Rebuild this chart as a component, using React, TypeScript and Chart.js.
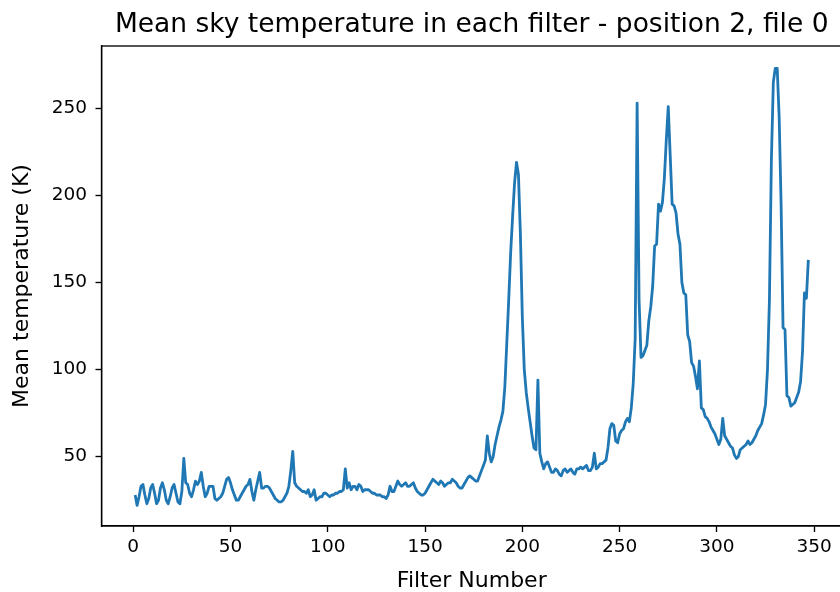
import React, { useEffect, useRef } from "react";
import { Chart, registerables } from "chart.js";

Chart.register(...registerables);

// Filter numbers 1..347 (consecutive filter indices)
const filterNumbers: number[] = Array.from({ length: 347 }, (_, i) => i + 1);

// Mean sky temperature (K), one value per filter
const meanTemperature: number[] = [
  28, 22, 27, 33, 34, 28, 23, 26, 32, 34,
  29, 23, 25, 32, 35, 31, 25, 23, 27, 32,
  34, 29, 24, 23, 30, 49, 35, 34, 29, 27,
  31, 36, 34, 36, 41, 33, 27, 29, 33, 33,
  33, 26, 25, 26, 27, 29, 33, 37, 38, 35,
  31, 28, 25, 25, 27, 29, 31, 33, 34, 37,
  30, 25, 31, 36, 41, 32, 32, 33, 33, 32,
  30, 28, 26, 25, 24, 24, 25, 27, 29, 33,
  42, 53, 35, 33, 32, 31, 30, 30, 29, 31,
  27, 28, 31, 25, 26, 27, 27, 29, 29, 28,
  27, 28, 28, 29, 29, 30, 30, 31, 43, 32,
  35, 31, 33, 33, 31, 34, 33, 30, 31, 31,
  31, 30, 29, 29, 28, 28, 28, 27, 27, 26,
  28, 33, 30, 30, 33, 36, 34, 33, 34, 35,
  33, 33, 34, 35, 32, 30, 29, 28, 28, 29,
  31, 33, 35, 37, 36, 35, 34, 36, 35, 33,
  34, 35, 35, 37, 36, 35, 33, 32, 32, 34,
  36, 38, 39, 38, 37, 36, 36, 39, 42, 45,
  48, 62, 52, 47, 50, 57, 62, 67, 71, 76,
  90, 115, 140, 167, 188, 207, 219, 212, 178, 130,
  100, 87, 78, 70, 62, 55, 54, 94, 52, 47,
  43, 46, 47, 44, 41, 41, 43, 42, 40, 39,
  42, 43, 41, 42, 43, 41, 40, 43, 43, 44,
  43, 44, 45, 42, 42, 44, 52, 43, 44, 46,
  46, 47, 48, 55, 66, 69, 68, 59, 58, 63,
  65, 66, 70, 72, 70, 78, 92, 118, 253, 140,
  107, 108, 111, 114, 128, 136, 148, 171, 172, 195,
  191, 196, 210, 232, 251, 223, 195, 194, 190, 178,
  172, 150, 144, 143, 120, 116, 104, 102, 96, 89,
  105, 78, 77, 73, 72, 70, 67, 65, 63, 60,
  57, 60, 72, 62, 60, 58, 56, 55, 51, 49,
  50, 54, 55, 56, 57, 59, 57, 58, 60, 62,
  65, 67, 69, 74, 80, 100, 140, 220, 265, 273,
  273, 245, 195, 124, 123, 85, 84, 79, 80, 81,
  84, 87, 93, 110, 144, 141, 163,
];

const xTickValues: number[] = [0, 50, 100, 150, 200, 250, 300, 350];
const yTickValues: number[] = [50, 100, 150, 200, 250];
const xLimits: number[] = [-16.3, 364.3];
const yLimits: number[] = [10.2, 285.8];

const titleText = "Mean sky temperature in each filter - position 2, file 0";
const xLabel = "Filter Number";
const yLabel = "Mean temperature (K)";

const FONT = "'DejaVu Sans', sans-serif";

export default function App() {
  const ref = useRef<HTMLCanvasElement>(null);

  useEffect(() => {
    if (!ref.current) return;
    const framePlugin = {
      id: "frame",
      afterDraw(chart: any) {
        const { ctx, chartArea: a } = chart;
        ctx.save();
        ctx.strokeStyle = "#000";
        ctx.lineWidth = 1.35;
        ctx.strokeRect(a.left, a.top, a.right - a.left, a.bottom - a.top);
        ctx.restore();
      },
    };

    const chart = new Chart(ref.current, {
      type: "line",
      data: {
        datasets: [
          {
            data: filterNumbers.map((x, i) => ({ x, y: meanTemperature[i] })),
            borderColor: "#1f77b4",
            borderWidth: 2.8,
            pointRadius: 0,
            tension: 0,
            fill: false,
            borderJoinStyle: "round",
          },
        ],
      },
      options: {
        responsive: false,
        animation: false,
        devicePixelRatio: 1,
        layout: { padding: 0 },
        plugins: {
          legend: { display: false },
          tooltip: { enabled: false },
          title: {
            display: true,
            text: titleText,
            fullSize: false,
            color: "#000",
            font: { family: FONT, size: 26.5, weight: "normal" },
            padding: { top: 9, bottom: 5.2 },
          },
        },
        scales: {
          x: {
            type: "linear",
            min: xLimits[0],
            max: xLimits[1],
            afterBuildTicks: (s: any) => {
              s.ticks = xTickValues.map((v) => ({ value: v }));
            },
            afterFit: (s: any) => {
              s.height = 68;
            },
            ticks: {
              autoSkip: false,
              maxRotation: 0,
              color: "#000",
              padding: 4,
              font: { family: FONT, size: 18.5 },
            },
            grid: {
              display: true,
              drawOnChartArea: false,
              drawTicks: true,
              tickLength: 6,
              tickColor: "#000",
              tickWidth: 1.35,
            },
            border: { display: true, color: "#000", width: 1.35 },
            title: {
              display: true,
              text: xLabel,
              color: "#000",
              font: { family: FONT, size: 22 },
              padding: { top: 0, bottom: 0 },
            },
          },
          y: {
            type: "linear",
            min: yLimits[0],
            max: yLimits[1],
            afterBuildTicks: (s: any) => {
              s.ticks = yTickValues.map((v) => ({ value: v }));
            },
            afterFit: (s: any) => {
              s.width = 101.5;
            },
            ticks: {
              autoSkip: false,
              color: "#000",
              padding: 8.5,
              font: { family: FONT, size: 18.5 },
            },
            grid: {
              display: true,
              drawOnChartArea: false,
              drawTicks: true,
              tickLength: 6,
              tickColor: "#000",
              tickWidth: 1.35,
            },
            border: { display: true, color: "#000", width: 1.35 },
            title: {
              display: true,
              text: yLabel,
              color: "#000",
              font: { family: FONT, size: 22 },
              padding: { top: 9, bottom: 0 },
            },
          },
        },
      },
      plugins: [framePlugin],
    } as any);

    return () => chart.destroy();
  }, []);

  return (
    <div
      style={{
        position: "absolute",
        left: 0,
        top: 0,
        width: 840,
        height: 592,
        overflow: "hidden",
        background: "#fff",
      }}
    >
      <canvas ref={ref} width={842} height={594} style={{ display: "block" }} />
    </div>
  );
}
